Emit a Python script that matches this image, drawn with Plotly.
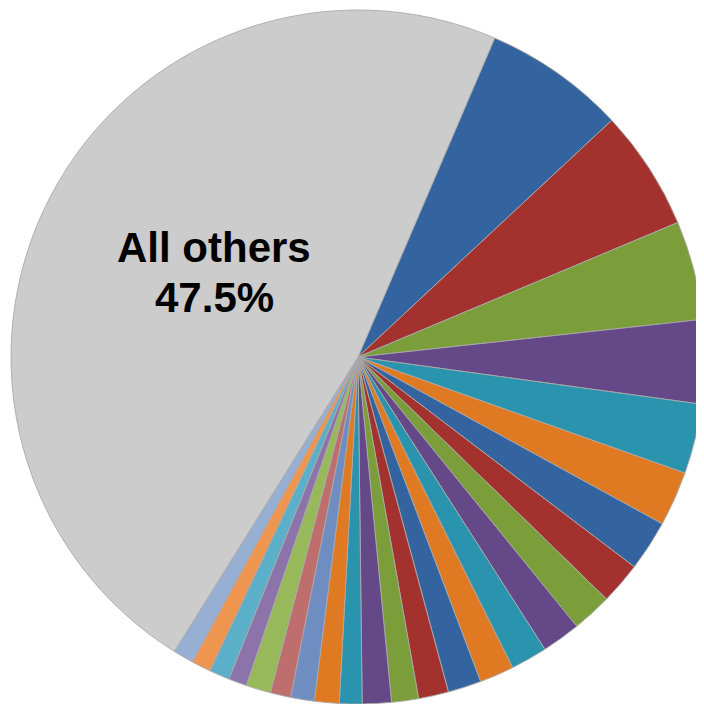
import plotly.graph_objects as go

# Slice labels (clockwise from the top-right), "All others" last
labels = [f"Item {i}" for i in range(1, 26)] + ["All others"]
values = [6.6, 5.6, 4.6, 3.9, 3.25, 2.55, 2.35, 1.95, 1.85, 1.8,
          1.7, 1.6, 1.55, 1.4, 1.25, 1.35, 1.05, 1.15, 1.1, 0.95,
          1.15, 0.85, 0.95, 0.9, 0.95, 47.5]

dark = ["#34649F", "#A3322E", "#7C9E3A", "#644887", "#2A93AE", "#E07A22"]
light = ["#6F8DC0", "#BF6E6E", "#97B95A", "#8C74AA", "#5BAFC8", "#EE9550", "#97AFD3"]
colors = (dark * 3)[:18] + light + ["#CCCCCC"]

fig = go.Figure(go.Pie(
    labels=labels,
    values=values,
    sort=False,
    direction="clockwise",
    rotation=23.2,
    marker=dict(colors=colors, line=dict(color="rgba(170,170,170,0.9)", width=1)),
    textinfo="none",
    hoverinfo="label+percent",
    domain=dict(x=[3 / 704, 697 / 704], y=[8 / 704, 702 / 704]),
    showlegend=False,
))

label_font = dict(family="Arial", size=42, color="black", weight="bold")
fig.add_annotation(
    text=labels[-1],
    xref="paper", yref="paper",
    x=206 / 704, y=1 - 239 / 704,
    xanchor="center", yanchor="middle",
    showarrow=False, font=label_font,
)
fig.add_annotation(
    text=f"{values[-1]:.1f}%",
    xref="paper", yref="paper",
    x=206 / 704, y=1 - 289 / 704,
    xanchor="center", yanchor="middle",
    showarrow=False, font=label_font,
)

fig.update_layout(
    width=704, height=704,
    margin=dict(l=0, r=0, t=0, b=0),
    paper_bgcolor="white",
    plot_bgcolor="white",
    showlegend=False,
)

fig.write_html("out.html")
